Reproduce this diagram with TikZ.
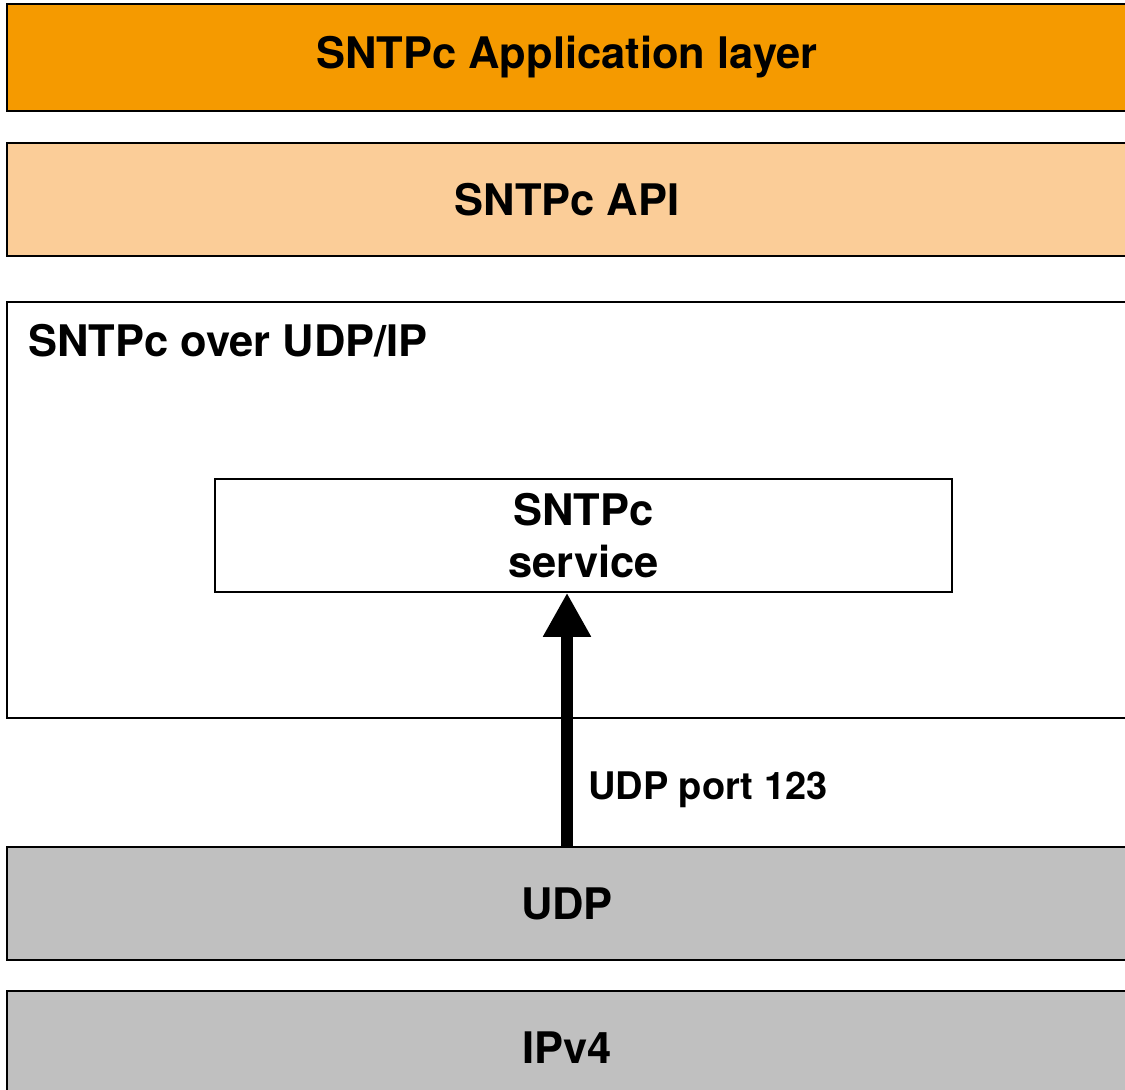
\documentclass[tikz,border=0pt]{standalone}
\usepackage{fontspec}
\setmainfont{TeX Gyre Heros}
\usetikzlibrary{arrows.meta}
\definecolor{apporange}{HTML}{F59A00}
\definecolor{apilight}{HTML}{FBCD98}
\definecolor{layergray}{HTML}{C0C0C0}
\tikzset{
  layer/.style={draw=black, line width=1.5pt, minimum width=1120pt, minimum height=113pt, inner sep=0pt,
    font=\fontsize{43.5}{52}\selectfont\bfseries, align=center},
  bigarrow/.style={line width=12pt, -{Triangle[width=45pt,length=44pt]}},
}
\begin{document}
\begin{tikzpicture}[x=1pt,y=-1pt]
\useasboundingbox (0,0) rectangle (1125,1090);
\fill[white] (0,0) rectangle (1125,1090);
\node[layer, fill=apporange, minimum height=107pt] (app) at (567,57.5) {SNTPc Application layer};
\node[layer, fill=apilight] (api) at (567,199.5) {SNTPc API};
\node[layer, fill=white, minimum height=416pt] (over) at (567,510) {};
\node[anchor=west, inner sep=0pt, font=\fontsize{43.5}{52}\selectfont\bfseries] (overlbl) at (28,341) {SNTPc over UDP/IP};
\node[layer, fill=white, minimum width=737pt] (svc) at (583.5,535.5) {SNTPc\\service};
\node[layer, fill=layergray] (udp) at (567,903.5) {UDP};
\node[layer, fill=layergray] (ip) at (567,1047.5) {IPv4};
\draw[bigarrow] (udp.north) -- (udp.north |- svc.south);
\node[anchor=west, inner sep=0pt, font=\fontsize{38}{46}\selectfont\bfseries] (portlbl) at (588,790) {UDP port 123};
\end{tikzpicture}
\end{document}
